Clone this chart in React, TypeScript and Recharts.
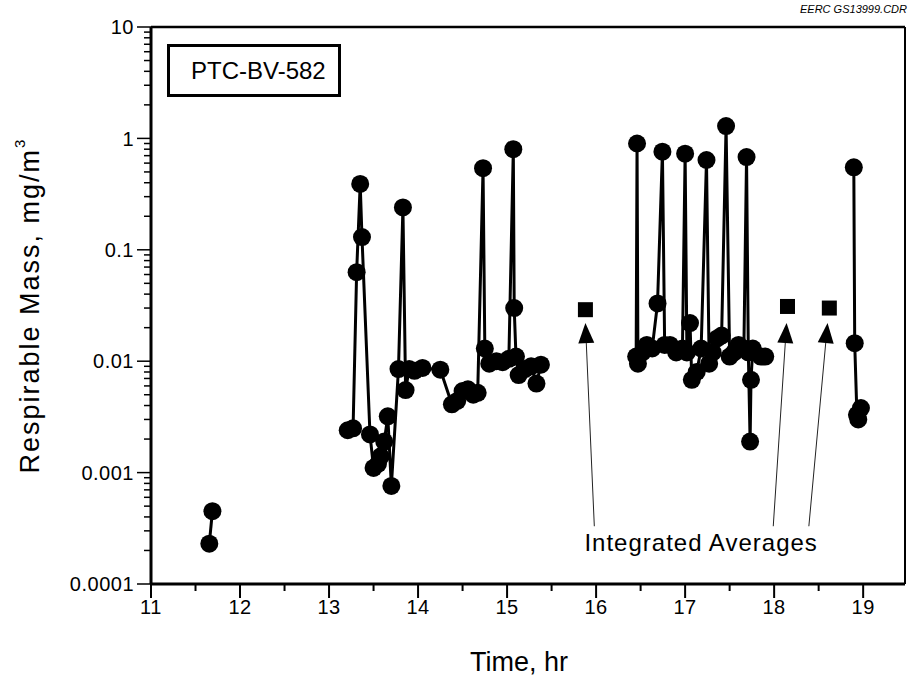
import React from 'react';
import { ComposedChart, Line, Scatter, XAxis, YAxis, ReferenceLine, ReferenceDot } from 'recharts';

// ---- data (time in hours, respirable mass in mg/m3) ----
const earlyTime = [11.655, 11.69];
const earlyMass = [0.00023, 0.00045];

const midTime = [13.21, 13.27, 13.31, 13.35, 13.37, 13.46, 13.5, 13.55, 13.58, 13.62, 13.66, 13.7, 13.78, 13.83, 13.86, 13.9, 13.96, 14.05, 14.25, 14.38, 14.44, 14.5, 14.56, 14.62, 14.67, 14.73, 14.75, 14.8, 14.88, 14.95, 15.02, 15.07, 15.08, 15.1, 15.13, 15.2, 15.27, 15.33, 15.38];
const midMass = [0.0024, 0.0025, 0.063, 0.39, 0.13, 0.0022, 0.0011, 0.0012, 0.0014, 0.0019, 0.0032, 0.00076, 0.0085, 0.24, 0.0055, 0.0085, 0.0082, 0.0087, 0.0084, 0.0041, 0.0044, 0.0054, 0.0056, 0.005, 0.0052, 0.54, 0.013, 0.0095, 0.01, 0.0098, 0.0105, 0.8, 0.03, 0.011, 0.0075, 0.0085, 0.009, 0.0063, 0.0093];

const lateTime = [16.45, 16.46, 16.47, 16.52, 16.57, 16.63, 16.69, 16.745, 16.77, 16.83, 16.9, 16.97, 17.0, 17.02, 17.055, 17.075, 17.13, 17.18, 17.24, 17.27, 17.31, 17.36, 17.41, 17.46, 17.5, 17.55, 17.6, 17.66, 17.69, 17.71, 17.73, 17.74, 17.76, 17.85, 17.9];
const lateMass = [0.011, 0.9, 0.0095, 0.012, 0.014, 0.013, 0.033, 0.76, 0.014, 0.014, 0.012, 0.013, 0.73, 0.012, 0.022, 0.0068, 0.008, 0.013, 0.64, 0.0095, 0.012, 0.016, 0.017, 1.29, 0.011, 0.012, 0.014, 0.013, 0.68, 0.012, 0.0019, 0.0068, 0.013, 0.011, 0.011];

const endTime = [18.895, 18.905, 18.93, 18.945, 18.975];
const endMass = [0.55, 0.0145, 0.0033, 0.003, 0.0038];

const avgTime = [15.88, 18.15, 18.62];
const avgMass = [0.029, 0.031, 0.03];

// arrows: tail (near the note) -> head (under an integrated average)
const arrowTailTime = [15.98, 17.99, 18.39];
const arrowHeadTime = [15.88, 18.14, 18.6];
const arrowTailMass = 0.00033;
const arrowHeadMass = 0.022;

const noteText = 'Integrated Averages';
const noteTime = 17.18;
const noteMass = 0.000235;

const xTicks = [11, 11.5, 12, 12.5, 13, 13.5, 14, 14.5, 15, 15.5, 16, 16.5, 17, 17.5, 18, 18.5, 19];
const xLabels = ['11', '12', '13', '14', '15', '16', '17', '18', '19'];
const yMajor = [0.0001, 0.001, 0.01, 0.1, 1, 10];
const yLabels = ['0.0001', '0.001', '0.01', '0.1', '1', '10'];
const yMinorMult = [2, 3, 4, 5, 6, 7, 8, 9];

const X_MAX = 19.47;

const toPoints = (t: number[], m: number[]) => t.map((v, i) => ({ t: v, v: m[i] }));
const segments = [
  toPoints(earlyTime, earlyMass),
  toPoints(midTime, midMass),
  toPoints(lateTime, lateMass),
  toPoints(endTime, endMass),
];
const avgPoints = toPoints(avgTime, avgMass);

const yTicks: number[] = [];
yMajor.forEach((d, i) => {
  yTicks.push(d);
  if (i < yMajor.length - 1) yMinorMult.forEach((k) => yTicks.push(d * k));
});

const FONT = '"Liberation Sans", Arial, Helvetica, sans-serif';

const YTick = (props: any) => {
  const { x, y, payload } = props;
  const idx = yMajor.findIndex((d) => Math.abs(d - payload.value) / d < 1e-6);
  const major = idx >= 0;
  return (
    <g>
      <line x1={x - (major ? 14 : 7)} x2={x} y1={y} y2={y} stroke="#000" strokeWidth={1.5} />
      {major && (
        <text x={x - 17} y={y} dy="0.36em" textAnchor="end" fontSize={20} letterSpacing={0.5} fontFamily={FONT} fill="#000">
          {yLabels[idx]}
        </text>
      )}
    </g>
  );
};

const XTick = (props: any) => {
  const { x, y, payload } = props;
  const v = payload.value;
  const major = Math.abs(v - Math.round(v)) < 1e-6;
  const label = major ? xLabels[Math.round(v) - 11] : null;
  return (
    <g>
      <line x1={x} x2={x} y1={y} y2={y + (major ? 14 : 7)} stroke="#000" strokeWidth={2} />
      {major && (
        <text x={x} y={y + 30} textAnchor="middle" fontSize={20} letterSpacing={0.5} fontFamily={FONT} fill="#000">
          {label}
        </text>
      )}
    </g>
  );
};

const ArrowShape = (p: any) => {
  const { x1, y1, x2, y2 } = p;
  const dx = x2 - x1;
  const dy = y2 - y1;
  const len = Math.sqrt(dx * dx + dy * dy) || 1;
  const ux = dx / len;
  const uy = dy / len;
  const hl = 20;
  const hw = 8;
  const bx = x2 - ux * hl;
  const by = y2 - uy * hl;
  const pts = `${x2},${y2} ${bx - uy * hw},${by + ux * hw} ${bx + uy * hw},${by - ux * hw}`;
  return (
    <g>
      <line x1={x1} y1={y1} x2={bx} y2={by} stroke="#222" strokeWidth={1} />
      <polygon points={pts} fill="#000" />
    </g>
  );
};

const NoteShape = (p: any) => (
  <text x={p.cx} y={p.cy} dy="0.35em" textAnchor="middle" fontSize={24} letterSpacing={1} fontFamily={FONT} fill="#000">
    {noteText}
  </text>
);

const SquareShape = (p: any) => <rect x={p.cx - 7.5} y={p.cy - 7.5} width={15} height={15} fill="#000" />;

const YTitle = (p: any) => {
  const vb = p.viewBox || { x: 0, y: 27, width: 151, height: 557 };
  const cx = vb.x + 30;
  const cy = vb.y + vb.height / 2;
  return (
    <text
      x={cx}
      y={cy}
      transform={`rotate(-90, ${cx}, ${cy})`}
      textAnchor="middle"
      dominantBaseline="central"
      fontSize={27}
      letterSpacing={2}
      fontFamily={FONT}
      fill="#000"
    >
      Respirable Mass, mg/m<tspan dy={-11} fontSize={15}>3</tspan>
    </text>
  );
};

export default function App() {
  return (
    <div style={{ position: 'absolute', left: 0, top: 0, width: 912, height: 685, background: '#fff' }}>
      <ComposedChart width={912} height={685} margin={{ top: 27, right: 7, bottom: 0, left: 0 }}>
        <XAxis
          dataKey="t"
          type="number"
          domain={[11, X_MAX]}
          ticks={xTicks}
          interval={0}
          allowDataOverflow
          tickLine={false}
          tickSize={0}
          tickMargin={0}
          tick={<XTick />}
          axisLine={{ stroke: '#000', strokeWidth: 3 }}
          height={101}
          label={{ value: 'Time, hr', position: 'insideBottom', offset: 14, dx: -9, style: { fontSize: 27, fontFamily: FONT, fill: '#000' } }}
        />
        <YAxis
          dataKey="v"
          type="number"
          scale="log"
          domain={[0.0001, 10]}
          ticks={yTicks}
          interval={0}
          allowDataOverflow
          tickLine={false}
          tickSize={0}
          tickMargin={0}
          tick={<YTick />}
          axisLine={{ stroke: '#000', strokeWidth: 3 }}
          width={151}
          label={YTitle}
        />
        <ReferenceLine y={10} stroke="#000" strokeWidth={2.5} />
        <ReferenceLine x={X_MAX} stroke="#000" strokeWidth={2} />
        {arrowTailTime.map((tt, i) => (
          <ReferenceLine
            key={'arr' + i}
            segment={[
              { x: tt, y: arrowTailMass },
              { x: arrowHeadTime[i], y: arrowHeadMass },
            ]}
            shape={ArrowShape}
          />
        ))}
        <ReferenceDot x={noteTime} y={noteMass} r={0} shape={NoteShape} />
        {segments.map((seg, i) => (
          <Line
            key={'seg' + i}
            data={seg}
            dataKey="v"
            type="linear"
            stroke="#000"
            strokeWidth={3}
            dot={{ r: 9, fill: '#000', stroke: '#000', strokeWidth: 0 }}
            activeDot={false}
            isAnimationActive={false}
          />
        ))}
        <Scatter data={avgPoints} dataKey="v" shape={SquareShape} isAnimationActive={false} />
      </ComposedChart>
      <div
        style={{
          position: 'absolute',
          left: 167,
          top: 44,
          width: 168,
          height: 47,
          border: '3px solid #000',
          fontFamily: FONT,
          fontSize: 24,
          lineHeight: '47px',
          boxSizing: 'content-box',
        }}
      >
        <span style={{ position: 'absolute', left: 21, top: 0 }}>PTC-BV-582</span>
      </div>
      <div
        style={{
          position: 'absolute',
          right: 5,
          top: 3,
          fontFamily: FONT,
          fontSize: 11,
          fontStyle: 'italic',
          color: '#000',
        }}
      >
        EERC GS13999.CDR
      </div>
    </div>
  );
}
